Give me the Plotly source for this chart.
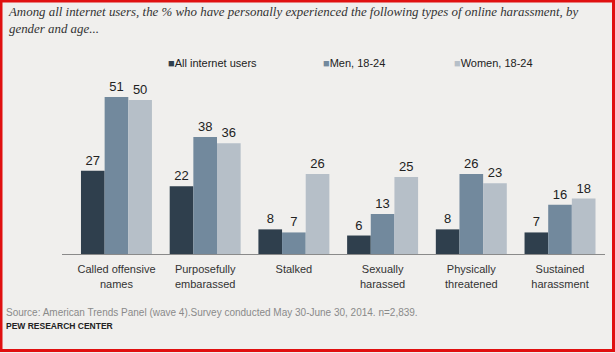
import plotly.graph_objects as go

categories = ["Called offensive<br>names", "Purposefully<br>embarassed", "Stalked",
              "Sexually<br>harassed", "Physically<br>threatened", "Sustained<br>harassment"]
series_names = ["All internet users", "Men, 18-24", "Women, 18-24"]
all_users = [27, 22, 8, 6, 8, 7]
men_18_24 = [51, 38, 7, 13, 26, 16]
women_18_24 = [50, 36, 26, 25, 23, 18]
colors = ["#2f3f4d", "#72899d", "#b6bfc8"]

W, H = 615, 353
ML, MR, MT, MB = 62, 10, 60, 99

fig = go.Figure()
for name, vals, col in zip(series_names, [all_users, men_18_24, women_18_24], colors):
    fig.add_trace(go.Bar(
        x=categories, y=vals, name=name, marker=dict(color=col, line=dict(width=0)),
        text=vals, textposition="outside", cliponaxis=False,
        textfont=dict(family="Liberation Sans, Arial", size=13, color="#222222"),
        showlegend=False,
    ))

pw = W - ML - MR
ph = H - MT - MB

def px(x):
    return (x - ML) / pw

def py(y):
    return (H - MB - y) / ph

annotations = [
    dict(text="Among all internet users, the % who have personally experienced the following types of online harassment, by<br>gender and age...",
         x=px(6), y=py(3), xref="paper", yref="paper", xanchor="left", yanchor="top", align="left",
         showarrow=False,
         font=dict(family="Liberation Serif, serif", size=12.9, color="#333333", style="italic")),
    dict(text="Source: American Trends Panel (wave 4).Survey conducted May 30-June 30, 2014. n=2,839.",
         x=px(4), y=py(312), xref="paper", yref="paper", xanchor="left", yanchor="middle",
         showarrow=False, font=dict(family="Liberation Sans, Arial", size=10, color="#8a8a8a")),
    dict(text="<b>PEW RESEARCH CENTER</b>",
         x=px(4), y=py(326), xref="paper", yref="paper", xanchor="left", yanchor="middle",
         showarrow=False, font=dict(family="Liberation Sans, Arial", size=8.5, color="#222222")),
]
legend_x = [166, 321, 452]
for name, col, lx in zip(series_names, colors, legend_x):
    annotations.append(dict(
        text=f"<span style='color:{col}'>■</span>{name}",
        x=px(lx), y=py(63), xref="paper", yref="paper", xanchor="left", yanchor="middle",
        showarrow=False, font=dict(family="Liberation Sans, Arial", size=11, color="#222222")))

fig.update_layout(
    width=W, height=H,
    margin=dict(l=ML, r=MR, t=MT, b=MB, pad=0),
    paper_bgcolor="#f0efed", plot_bgcolor="#f0efed",
    barmode="group", bargap=0.2, bargroupgap=0,
    annotations=annotations,
    xaxis=dict(range=[-0.614, 5.507], showline=True, linecolor="#8a8a8a", linewidth=1,
               ticks="", showgrid=False, zeroline=False, ticklabelstandoff=5,
               tickfont=dict(family="Liberation Sans, Arial", size=11, color="#333333")),
    yaxis=dict(range=[0, 63], visible=False, showgrid=False, zeroline=False),
    shapes=[dict(type="rect", xref="paper", yref="paper",
                 x0=px(1), x1=px(W - 1.5), y0=py(1), y1=py(H - 2.5),
                 line=dict(color="#e01010", width=3), layer="above")],
)

fig.write_html("out.html")
